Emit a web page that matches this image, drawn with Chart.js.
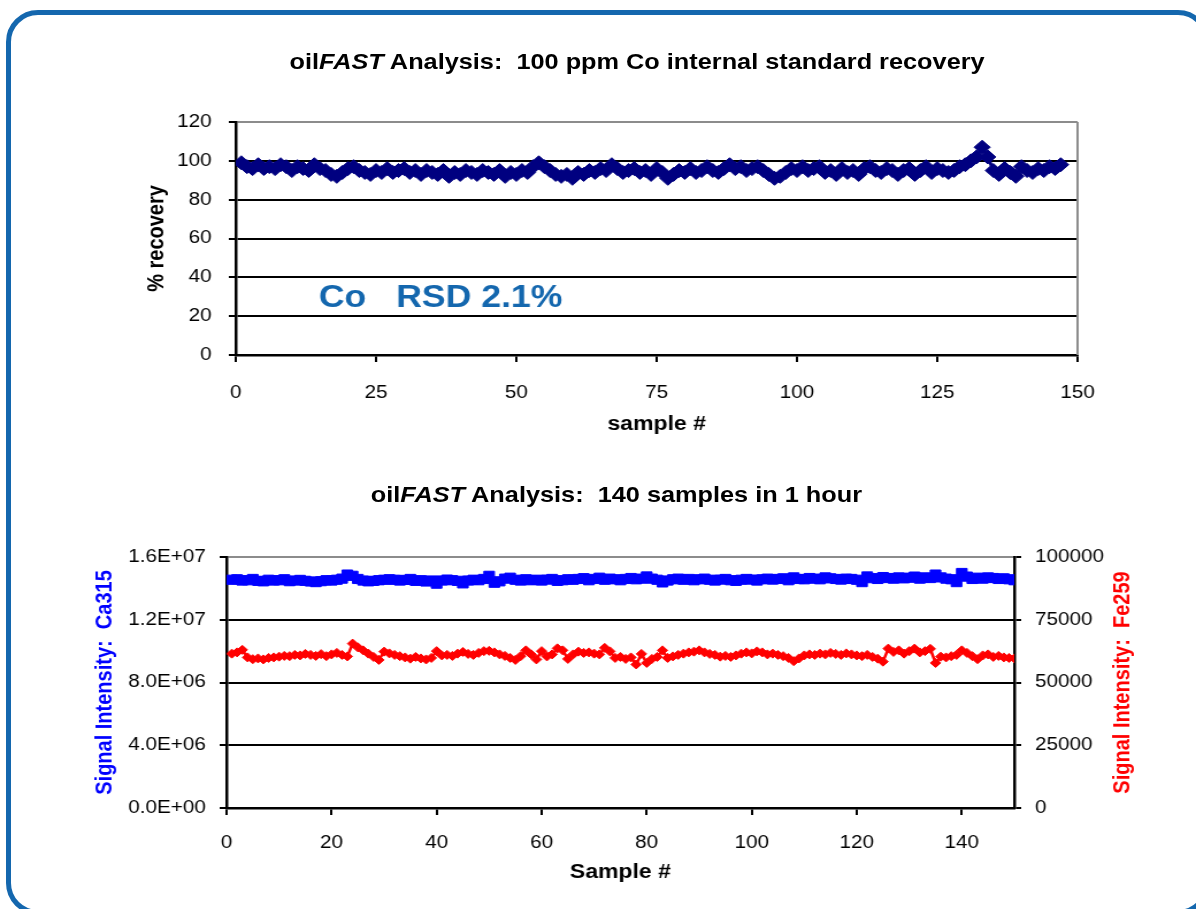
<!DOCTYPE html>
<html>
<head>
<meta charset="utf-8">
<script src="https://cdn.jsdelivr.net/npm/chart.js@4.4.1/dist/chart.umd.min.js"></script>
<style>
html, body { margin: 0; padding: 0; background: #fff; overflow: hidden; }
#frame { position: absolute; left: 6px; top: 10px; width: 1204px; height: 905px; box-sizing: border-box;
         border: 5px solid #1467ae; border-radius: 32px; }
/* the original slide stretched the charts sideways, so the whole stage is scaled in x */
#stage { position: absolute; left: 0; top: 0; width: 1040px; height: 909px; transform: scaleX(1.15); transform-origin: 0 0; }
.ttl { position: absolute; font: bold 22px "Liberation Sans", Arial, sans-serif; white-space: pre;
       transform: translate(-50%, -50%); color: #000; }
canvas { position: absolute; left: 0; }
</style>
</head>
<body>
<div id="frame"></div>
<div id="stage">
  <div class="ttl" style="left:554px; top:62px">oil<i>FAST</i> Analysis:  100 ppm Co internal standard recovery</div>
  <canvas id="recChart" width="1040" height="450" style="top:0"></canvas>
  <div class="ttl" style="left:536px; top:495px">oil<i>FAST</i> Analysis:  140 samples in 1 hour</div>
  <canvas id="sigChart" width="1040" height="459" style="top:450px"></canvas>
</div>
<script>
const FONT = '"Liberation Sans", Arial, sans-serif';
const NAVY = '#000080';
const BLUE = '#0000ff';
const RED = '#ff0000';
const GRAY = '#8c8c8c';
const NOTE_BLUE = '#1467ae';

// top chart: % recovery of the 100 ppm Co internal standard, samples 1..147
const recovery = [
  99, 97, 96, 98, 96, 97, 96, 98, 97, 95,
  97, 96, 95, 98, 96, 95, 93, 92, 94, 96,
  97, 95, 94, 93, 95, 94, 96, 94, 95, 96,
  94, 95, 93, 95, 94, 93, 95, 92, 94, 93,
  95, 94, 93, 95, 94, 93, 95, 92, 94, 93,
  95, 94, 97, 99, 97, 95, 93, 92, 93, 91,
  94, 93, 95, 94, 96, 95, 98, 96, 94, 95,
  96, 94, 95, 93, 96, 94, 91, 93, 95, 94,
  96, 94, 95, 97, 95, 94, 96, 98, 96, 97,
  95, 96, 97, 95, 93, 91, 92, 94, 96, 95,
  97, 95, 96, 97, 94, 95, 93, 96, 94, 95,
  93, 96, 97, 95, 94, 96, 95, 93, 95, 96,
  93, 95, 97, 94, 96, 95, 94, 95, 97, 98,
  100, 102, 107, 102, 95, 93, 96, 94, 92, 97,
  95, 94, 96, 95, 97, 96, 98
];
const noteText = 'Co   RSD 2.1%';
const noteAt = [14.8, 29];   // sample #, % recovery

// bottom chart: signal intensities, samples 1..150
const ca315 = [ // x 1E6
  14.55, 14.58, 14.50, 14.52, 14.60, 14.48, 14.45, 14.55, 14.50, 14.52,
  14.58, 14.46, 14.50, 14.54, 14.48, 14.44, 14.40, 14.46, 14.52, 14.50,
  14.55, 14.62, 14.88, 14.80, 14.60, 14.50, 14.45, 14.48, 14.52, 14.55,
  14.58, 14.55, 14.50, 14.54, 14.60, 14.48, 14.52, 14.44, 14.50, 14.30,
  14.50, 14.56, 14.52, 14.48, 14.32, 14.50, 14.55, 14.52, 14.60, 14.80,
  14.36, 14.45, 14.62, 14.68, 14.55, 14.50, 14.58, 14.52, 14.55, 14.50,
  14.56, 14.60, 14.48, 14.52, 14.58, 14.55, 14.60, 14.65, 14.52, 14.60,
  14.68, 14.55, 14.62, 14.58, 14.52, 14.60, 14.66, 14.58, 14.62, 14.76,
  14.62, 14.55, 14.38, 14.50, 14.58, 14.62, 14.55, 14.60, 14.52, 14.58,
  14.62, 14.55, 14.50, 14.56, 14.60, 14.52, 14.48, 14.55, 14.60, 14.56,
  14.50, 14.58, 14.62, 14.56, 14.60, 14.64, 14.52, 14.70, 14.60, 14.58,
  14.66, 14.62, 14.58, 14.70, 14.64, 14.60, 14.56, 14.62, 14.60, 14.55,
  14.40, 14.76, 14.65, 14.60, 14.72, 14.66, 14.62, 14.70, 14.64, 14.68,
  14.75, 14.62, 14.70, 14.66, 14.88, 14.70, 14.62, 14.58, 14.40, 14.98,
  14.75, 14.60, 14.68, 14.62, 14.70, 14.66, 14.60, 14.64, 14.58, 14.52
];
const fe259 = [
  61500, 62000, 63000, 60000, 59300, 59600, 59200, 59800, 60000, 60300,
  60600, 60500, 61000, 60800, 61400, 61000, 60600, 61300, 60500, 61200,
  61800, 61000, 60400, 65500, 64000, 62800, 61500, 60200, 59000, 62300,
  61600, 61000, 60500, 60000, 59500, 60200, 59600, 59200, 59800, 62500,
  60800, 61000, 60600, 61500, 62200, 61400, 61000, 61800, 62500, 62600,
  62000, 61200, 60600, 59800, 59000, 60500, 62800, 61200, 59200, 62500,
  60400, 61200, 63600, 62800, 59400, 61200, 62300, 61800, 62000, 61500,
  61200, 63800, 62400, 59800, 60200, 59400, 60000, 57200, 61400, 57800,
  59400, 60200, 62800, 59800, 60400, 61000, 61500, 62000, 62300, 62800,
  62000, 61400, 61000, 60300, 60600, 60200, 60800, 61500, 62000, 61600,
  62400, 62000, 61200, 61500, 61000, 60500, 59800, 58500, 59600, 60800,
  61200, 61000, 61500, 61200, 61800, 61400, 61000, 61600, 61200, 60800,
  60500, 61000, 60200, 59500, 58300, 63500, 62200, 62800, 61500, 62500,
  63500, 62000, 62500, 63400, 57800, 60300, 60000, 60500, 61000, 62800,
  61800, 60500, 59300, 60800, 61200, 60200, 60600, 60000, 59800, 59600
];

Chart.defaults.font.family = FONT;
Chart.defaults.color = '#000';
Chart.defaults.animation = false;

// "1.6E+07" style labels like Excel
function sciLabel(v) {
  if (v === 0) return '0.0E+00';
  const e = Math.floor(Math.log10(v));
  return (v / Math.pow(10, e)).toFixed(1) + 'E+' + String(e).padStart(2, '0');
}

// gray line along the right edge of the plot area
const plotFrame = {
  id: 'plotFrame',
  beforeDatasetsDraw(chart, args, opts) {
    const {ctx, chartArea: a} = chart;
    ctx.save();
    ctx.strokeStyle = opts.color;
    ctx.lineWidth = opts.width;
    ctx.beginPath();
    ctx.moveTo(a.right, a.top);
    ctx.lineTo(a.right, a.bottom);
    ctx.stroke();
    ctx.restore();
  }
};

const rsdNote = {
  id: 'rsdNote',
  afterDatasetsDraw(chart, args, opts) {
    const {ctx, scales} = chart;
    ctx.save();
    ctx.font = 'bold ' + opts.size + 'px ' + FONT;
    ctx.fillStyle = opts.color;
    ctx.textAlign = 'left';
    ctx.textBaseline = 'middle';
    ctx.fillText(noteText, scales.x.getPixelForValue(noteAt[0]), scales.y.getPixelForValue(noteAt[1]));
    ctx.restore();
  }
};

// right axis title reads bottom-to-top in the original, Chart.js would turn it the other way
const upTitle = {
  id: 'upTitle',
  afterDraw(chart, args, opts) {
    const s = chart.scales[opts.axis];
    const t = s.options.title;
    const size = t.font.size;
    const ctx = chart.ctx;
    ctx.save();
    ctx.translate(s.right - (size * 0.6 + opts.pad), (s.top + s.bottom) / 2);
    ctx.rotate(-Math.PI / 2);
    ctx.font = 'bold ' + size + 'px ' + FONT;
    ctx.fillStyle = t.color;
    ctx.textAlign = 'center';
    ctx.textBaseline = 'middle';
    ctx.fillText(t.text, 0, 0);
    ctx.restore();
  }
};

new Chart(document.getElementById('recChart'), {
  type: 'line',
  data: {
    datasets: [{
      data: recovery.map((v, i) => ({x: i + 1, y: v})),
      borderColor: NAVY,
      backgroundColor: NAVY,
      borderWidth: 3,
      pointStyle: 'rectRot',
      pointRadius: 7,
      pointHoverRadius: 7,
      pointBorderWidth: 1
    }]
  },
  options: {
    responsive: false,
    devicePixelRatio: 1,
    layout: {padding: {left: 120, right: 103, top: 122, bottom: 0}},
    plugins: {
      legend: {display: false},
      tooltip: {enabled: false},
      plotFrame: {color: GRAY, width: 2},
      rsdNote: {size: 31, color: NOTE_BLUE}
    },
    scales: {
      x: {
        type: 'linear', min: 0, max: 150,
        afterFit: s => { s.height = 95; },
        ticks: {stepSize: 25, font: {size: 18}, padding: 20, maxRotation: 0},
        grid: {drawOnChartArea: false, tickLength: 7, color: '#000', lineWidth: 2},
        border: {color: '#000', width: 2.5},
        title: {display: true, text: 'sample #', font: {size: 20, weight: 'bold'}, padding: {bottom: 14}}
      },
      y: {
        min: 0, max: 120,
        afterFit: s => { s.width = 85; },
        ticks: {stepSize: 20, font: {size: 18}, padding: 15},
        grid: {color: c => (c.tick && c.tick.value === 120) ? GRAY : '#000', lineWidth: 2, tickLength: 6, tickColor: '#000'},
        border: {color: '#000', width: 2.5},
        title: {display: true, text: '% recovery', font: {size: 20, weight: 'bold'}, padding: {top: 4}}
      }
    }
  },
  plugins: [plotFrame, rsdNote]
});

new Chart(document.getElementById('sigChart'), {
  type: 'line',
  data: {
    datasets: [{
      label: 'Ca315',
      data: ca315.map((v, i) => ({x: i + 1, y: v * 1e6})),
      yAxisID: 'y',
      borderColor: BLUE,
      backgroundColor: BLUE,
      borderWidth: 2.5,
      pointStyle: 'rect',
      pointRadius: 6.5,
      pointHoverRadius: 6.5,
      pointBorderWidth: 1
    }, {
      label: 'Fe259',
      data: fe259.map((v, i) => ({x: i + 1, y: v})),
      yAxisID: 'yFe',
      borderColor: RED,
      backgroundColor: RED,
      borderWidth: 2.5,
      pointStyle: 'rectRot',
      pointRadius: 4.5,
      pointHoverRadius: 4.5,
      pointBorderWidth: 1
    }]
  },
  options: {
    responsive: false,
    devicePixelRatio: 1,
    layout: {padding: {left: 75, right: 48, top: 107, bottom: 0}},
    plugins: {
      legend: {display: false},
      tooltip: {enabled: false},
      upTitle: {axis: 'yFe', pad: 4}
    },
    scales: {
      x: {
        type: 'linear', min: 0, max: 150,
        afterFit: s => { s.height = 101; },
        ticks: {stepSize: 20, includeBounds: false, font: {size: 18}, padding: 17, maxRotation: 0},
        grid: {drawOnChartArea: false, tickLength: 7, color: '#000', lineWidth: 2},
        border: {color: '#000', width: 2.5},
        title: {display: true, text: 'Sample #', font: {size: 20, weight: 'bold'}, padding: {bottom: 25}}
      },
      y: {
        position: 'left', min: 0, max: 16e6,
        afterFit: s => { s.width = 122; },
        ticks: {stepSize: 4e6, font: {size: 18}, padding: 12, callback: sciLabel},
        grid: {color: c => (c.tick && c.tick.value === 16e6) ? GRAY : '#000', lineWidth: 2, tickLength: 6, tickColor: '#000'},
        border: {color: '#000', width: 2.5},
        title: {display: true, text: 'Signal Intensity:  Ca315', color: BLUE, font: {size: 20, weight: 'bold'}, padding: {top: 4}}
      },
      yFe: {
        position: 'right', min: 0, max: 100000,
        afterFit: s => { s.width = 110; },
        ticks: {stepSize: 25000, font: {size: 18}, padding: 12, callback: v => String(v)},
        grid: {drawOnChartArea: false, tickLength: 6, color: '#000', lineWidth: 2},
        border: {color: '#000', width: 2.5},
        title: {display: false, text: 'Signal Intensity:  Fe259', color: RED, font: {size: 20, weight: 'bold'}}
      }
    }
  },
  plugins: [upTitle]
});
</script>
</body>
</html>
